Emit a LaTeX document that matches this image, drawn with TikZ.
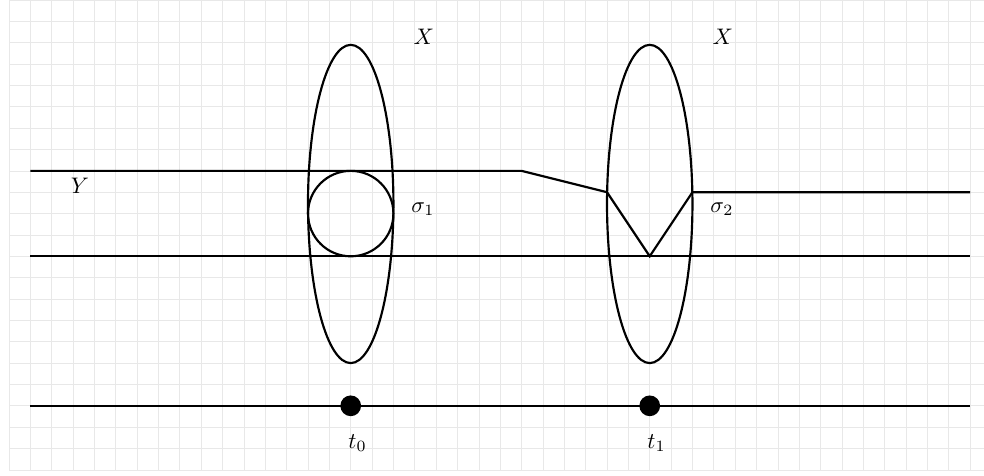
\documentclass[tikz,border=0pt]{standalone}
\usepackage{amsmath,amssymb}
\usepackage{tikz}

\begin{document}
\begin{tikzpicture}[
        x=0.417cm, y=0.417cm,
        gridline/.style={draw=gray!18, line width=0.4pt},
        curve/.style={draw=black, line width=1.2pt},
        timedot/.style={circle, fill=black, inner sep=0pt, minimum size=0.97*0.417cm},
        lbl/.style={inner sep=0pt, scale=1.25}
    ]
        \useasboundingbox (-0.42,-0.24) rectangle (45.65,22);
        % Background grid
        \draw [gridline, step=0.417cm] (0,0) grid (45.65,22);

        % Fibres over t_0 and t_1
        \draw [curve] (16,12.45) ellipse [x radius=2, y radius=7.45];
        \draw [curve] (30,12.45) ellipse [x radius=2, y radius=7.45];

        % Y strip
        \coordinate (ya) at (1,14);
        \coordinate (yb) at (24,14);
        \coordinate (yc) at (28,13);
        \coordinate (yd) at (30,10);
        \coordinate (ye) at (32,13);
        \coordinate (yf) at (45,13);
        \coordinate (la) at (1,10);
        \coordinate (lb) at (45,10);
        \draw [curve] (ya) -- (yb) -- (yc) -- (yd) -- (ye) -- (yf);
        \draw [curve] (la) -- (lb);

        % Section sigma_1
        \draw [curve] (16,12) circle [radius=2];

        % Base line with times
        \coordinate (ba) at (1,3);
        \coordinate (bb) at (45,3);
        \draw [curve] (ba) -- (bb);
        \node (d0) [timedot] at (16,3) {};
        \node (d1) [timedot] at (30,3) {};

        % Labels
        \node (x0) [lbl] at (19.42,20.27) {$X$};
        \node (x1) [lbl] at (33.42,20.27) {$X$};
        \node (ylab) [lbl] at (3.32,13.29) {$Y$};
        \node (s1) [lbl] at (19.38,12.22) {$\sigma_1$};
        \node (s2) [lbl] at (33.38,12.22) {$\sigma_2$};
        \node (t0) [lbl] at (16.32,1.26) {$t_0$};
        \node (t1) [lbl] at (30.32,1.26) {$t_1$};
    \end{tikzpicture}
\end{document}
